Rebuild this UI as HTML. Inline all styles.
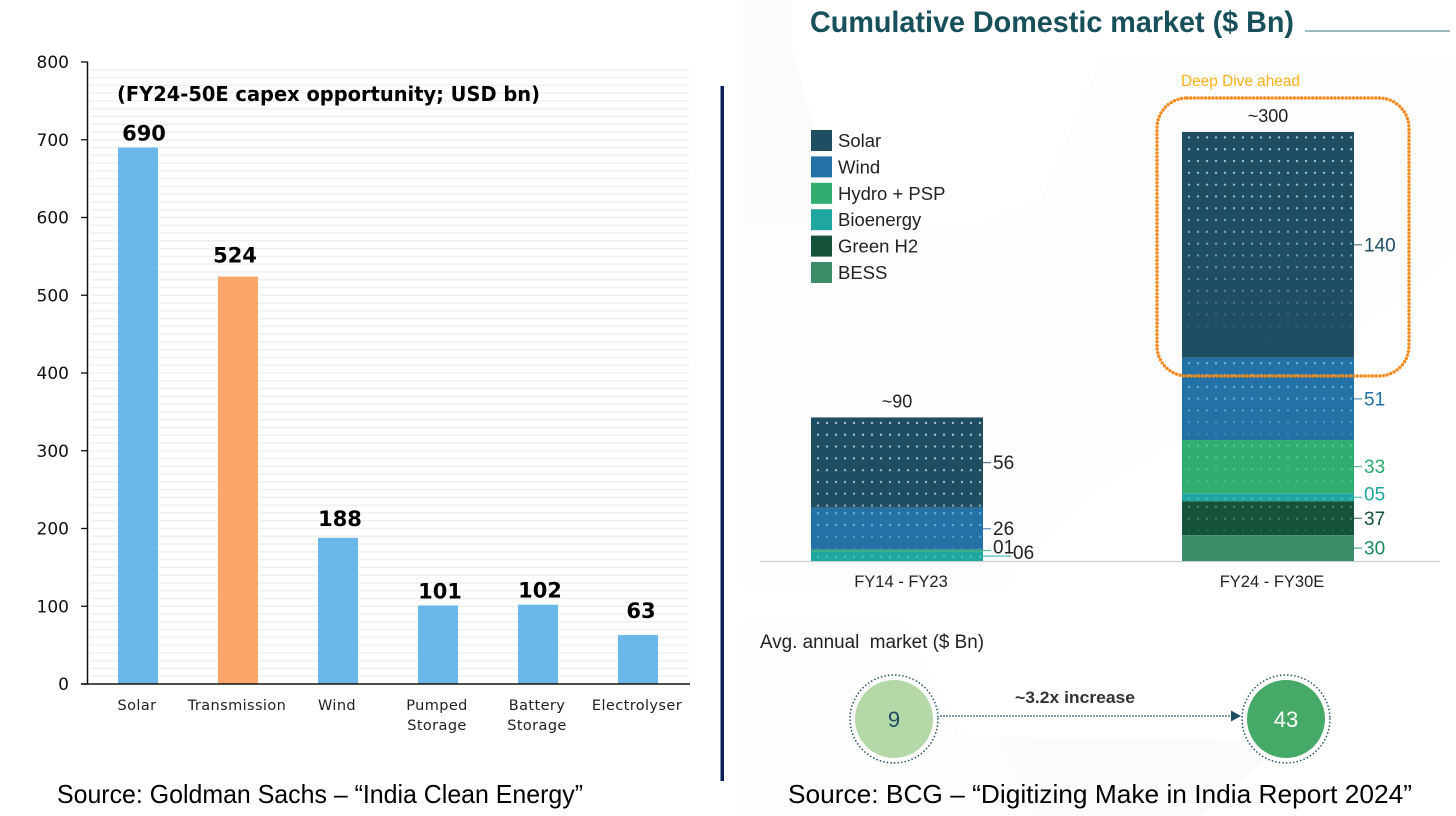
<!DOCTYPE html>
<html lang="en">
<head>
<meta charset="utf-8">
<title>India clean energy capex and domestic market</title>
<style>
  html,body{margin:0;padding:0;background:#fff;}
  svg{display:block;}
  text{font-family:"Liberation Sans",sans-serif;}
  .dj text,.dj{font-family:"DejaVu Sans",sans-serif;}
</style>
</head>
<body>
<svg id="stage" xmlns="http://www.w3.org/2000/svg" width="1456" height="816" viewBox="0 0 1456 816">
  <rect x="0" y="0" width="1456" height="816" fill="#ffffff"/>

  <g id="right-bg">
    <rect x="743" y="0" width="713" height="816" fill="#fdfdfd"/>
    <polygon points="790,0 1456,0 1456,816 1200,816 1290,740 960,735 905,620 743,620 743,590 1000,590 1080,500 1400,300 1456,250 1456,60 1100,60 1040,200 980,225 840,225 790,40" fill="#ffffff"/>
    <polygon points="1000,740 1290,740 1200,816 1040,816" fill="#fbfbfb"/>
    <polygon points="743,0 790,0 790,40 840,225 743,225" fill="#fbfbfb"/>
  </g>

  <g id="left-chart" class="dj"></g>

  <text x="117" y="101" font-size="20" font-weight="700" fill="#000" textLength="423" lengthAdjust="spacingAndGlyphs" style="font-family:'DejaVu Sans',sans-serif">(FY24-50E capex opportunity; USD bn)</text>

  <text x="57" y="803" font-size="26" fill="#000" textLength="526" lengthAdjust="spacingAndGlyphs">Source: Goldman Sachs – “India Clean Energy”</text>

  <rect x="720.5" y="86" width="3.5" height="695" fill="#0b1f5c"/>

  <text x="810" y="32" font-size="29.5" font-weight="700" fill="#17505a" textLength="484" lengthAdjust="spacingAndGlyphs">Cumulative Domestic market ($ Bn)</text>
  <line x1="1305" y1="31" x2="1450" y2="31" stroke="#7fa3aa" stroke-width="1.5"/>

  <g id="right-chart"></g>

  <text x="1181" y="86" font-size="15.5" fill="#fbb017" textLength="119" lengthAdjust="spacingAndGlyphs">Deep Dive ahead</text>
  <rect x="1157" y="98" width="252" height="278" rx="30" ry="30" fill="none" stroke="#f58a1f" stroke-width="3.4" stroke-linecap="round" stroke-dasharray="0 3.7"/>

  <text x="760" y="648" font-size="19" fill="#222" textLength="224" lengthAdjust="spacingAndGlyphs" xml:space="preserve">Avg. annual  market ($ Bn)</text>

  <circle cx="894" cy="719" r="44" fill="none" stroke="#1f4e63" stroke-width="1.7" stroke-linecap="round" stroke-dasharray="0 3.6"/>
  <circle cx="894" cy="719" r="39" fill="#b5d8a8"/>
  <text x="894" y="727" font-size="22" text-anchor="middle" fill="#1f4e63">9</text>

  <line x1="941" y1="716" x2="1232" y2="716" stroke="#1f4e63" stroke-width="1.7" stroke-linecap="round" stroke-dasharray="0 3"/>
  <polygon points="1231,710.5 1241,716 1231,721.5" fill="#1f4e63"/>
  <text x="1015" y="703" font-size="17" font-weight="700" fill="#333" textLength="120" lengthAdjust="spacingAndGlyphs">~3.2x increase</text>

  <circle cx="1286" cy="719" r="44" fill="none" stroke="#1f4e63" stroke-width="1.7" stroke-linecap="round" stroke-dasharray="0 3.6"/>
  <circle cx="1286" cy="719" r="39" fill="#47a968"/>
  <text x="1286" y="727" font-size="22" text-anchor="middle" fill="#ffffff">43</text>

  <text x="788" y="803" font-size="26" fill="#000" textLength="624" lengthAdjust="spacingAndGlyphs">Source: BCG – “Digitizing Make in India Report 2024”</text>
</svg>

<script>
/* ---------- left chart data ---------- */
const capexCategories = ['Solar', 'Transmission', 'Wind', 'Pumped|Storage', 'Battery|Storage', 'Electrolyser'];
const capexValues = [690, 524, 188, 101, 102, 63];
const capexTicks = [0, 100, 200, 300, 400, 500, 600, 700, 800];

/* ---------- right chart data (top of stack first) ---------- */
const marketSeries = ['Solar', 'Wind', 'Hydro + PSP', 'Bioenergy', 'Green H2', 'BESS'];
const marketPeriods = ['FY14 - FY23', 'FY24 - FY30E'];
const marketTotals = ['~90', '~300'];
/* Drawn heights; the source draws Green H2 and BESS shorter than their printed 37 and 30. */
const fy14Values = [56, 26, 1, 6, 0, 0];
const fy30Values = [140, 51, 33, 5, 21, 16];
const fy14Printed = ['56', '26', '01', '06', '', ''];
const fy30Printed = ['140', '51', '33', '05', '37', '30'];

/* ---------- layout and style ---------- */
const NS = 'http://www.w3.org/2000/svg';
const capexBase = 684, capexPxPerUnit = 0.7775, capexFirst = 138, capexStep = 100, capexBarW = 40;
const marketBase = 561, marketPxPerUnit = 1.613, marketBarW = 172;
const marketBarLeft = [811, 1182];
const seriesFill = ['#1f4e63', '#2471a8', '#2fae6f', '#20a6a1', '#14533a', '#3a8d68'];
const seriesInk = ['#1f4e63', '#1f6fa8', '#2bab6c', '#1fa5a0', '#14503a', '#1d8a5e'];
const seriesDotAlpha = [0.72, 0.5, 0.32, 0.4, 0.3, 0];
const capexFill = ['#6bb7e8', '#fba66a', '#6bb7e8', '#6bb7e8', '#6bb7e8', '#6bb7e8'];
const capexLabelLift = [7, 14, 12, 7, 7, 17];
const capexLabelShift = [6, -3, 2, 2, 2, 3];

const yCapex = v => capexBase - v * capexPxPerUnit;
const xCapex = i => capexFirst + i * capexStep;
const hMarket = v => v * marketPxPerUnit;

function make(parent, tag, attrs, content) {
  const el = document.createElementNS(NS, tag);
  for (const k in attrs) el.setAttribute(k, attrs[k]);
  if (content !== undefined) el.textContent = content;
  parent.appendChild(el);
  return el;
}
const slug = s => s.toLowerCase().replace(/[^a-z0-9]+/g, '-').replace(/^-|-$/g, '');

/* ---------- left chart ---------- */
const left = document.getElementById('left-chart');

for (let v = 10; v < 800; v += 10) {
  const grid = make(left, 'line', {x1: 90, x2: 689, y1: yCapex(v), y2: yCapex(v), stroke: '#f0f0f0', 'stroke-width': 1.6});
  
  
}

capexTicks.forEach(t => {
  const mark = make(left, 'line', {x1: 81, x2: 88, y1: yCapex(t), y2: yCapex(t), stroke: '#111', 'stroke-width': 1.3});
  
  
  const lab = make(left, 'text', {x: 69, y: yCapex(t) + 6, 'text-anchor': 'end', 'font-size': 17, fill: '#111'}, String(t));
  
  
});

capexValues.forEach((v, i) => {
  const bar = make(left, 'rect', {x: xCapex(i) - capexBarW / 2, y: yCapex(v), width: capexBarW, height: v * capexPxPerUnit, fill: capexFill[i]});
  
  
  const val = make(left, 'text', {x: xCapex(i) + capexLabelShift[i], y: yCapex(v) - capexLabelLift[i], 'text-anchor': 'middle', 'font-size': 21, 'font-weight': 700, fill: '#000'}, String(v));
  
  
  capexCategories[i].split('|').forEach((line, n) => {
    const cat = make(left, 'text', {x: xCapex(i) - 1, y: 710 + n * 20, 'text-anchor': 'middle', 'font-size': 14.5, 'letter-spacing': 0.4, fill: '#222'}, line);
    
    
  });
});

const yAxis = make(left, 'line', {x1: 87.5, x2: 87.5, y1: 62, y2: 684, stroke: '#111', 'stroke-width': 1.5});


const xAxis = make(left, 'line', {x1: 81, x2: 690, y1: 684, y2: 684, stroke: '#111', 'stroke-width': 1.5});



/* ---------- right chart ---------- */
const right = document.getElementById('right-chart');

marketSeries.forEach((name, i) => {
  const y = 130 + i * 26.4;
  const sw = make(right, 'rect', {x: 811, y: y, width: 21, height: 21, fill: seriesFill[i]});
  
  
  const lab = make(right, 'text', {x: 838, y: y + 17, 'font-size': 18.5, fill: '#222'}, name);
  
  
});

const baseline = make(right, 'line', {x1: 760, x2: 1440, y1: marketBase + 0.5, y2: marketBase + 0.5, stroke: '#cfcfcf', 'stroke-width': 1.2});



[fy14Values, fy30Values].forEach((vals, b) => {
  const printed = b === 0 ? fy14Printed : fy30Printed;
  const barX = marketBarLeft[b];
  const total = vals.reduce((a, c) => a + c, 0);
  let top = marketBase - hMarket(total);

  const tot = make(right, 'text', {x: barX + marketBarW / 2, y: top - 10, 'text-anchor': 'middle', 'font-size': 18, fill: '#222'}, marketTotals[b]);
  
  

  const cat = make(right, 'text', {x: barX + marketBarW / 2 + 4, y: 587, 'text-anchor': 'middle', 'font-size': 16.5, fill: '#222'}, marketPeriods[b]);
  
  

  let prevThin = false;
  vals.forEach((v, i) => {
    if (v <= 0) return;
    const h = hMarket(v);
    const seg = make(right, 'rect', {x: barX, y: top, width: marketBarW, height: h, fill: seriesFill[i]});
    
    

    if (seriesDotAlpha[i] > 0) {
      const span = i === 0 ? 210 : h * 1.15;
      for (let dy = 5.5; dy < h - 1; dy += 11.8) {
        const fade = Math.max(0, 1 - (dy / span) * (dy / span));
        for (let dx = 7; dx < marketBarW - 2; dx += 9) {
          const dot = make(right, 'circle', {cx: barX + dx, cy: top + dy, r: 1.2, fill: '#d8eef0', opacity: (seriesDotAlpha[i] * fade).toFixed(2)});
          
          
        }
      }
    }

    const mid = top + h / 2;
    const thin = h < 12;
    const labelX = barX + marketBarW + 10 + (thin && prevThin ? 20 : 0);
    const tick = make(right, 'line', {x1: barX + marketBarW, x2: labelX - 2, y1: mid, y2: mid, stroke: seriesInk[i], 'stroke-width': 1.2, opacity: 0.75});
    
    
    const lab = make(right, 'text', {x: labelX, y: mid + (thin ? 3 : 6.5), 'font-size': 19, fill: b === 0 ? '#222' : seriesInk[i]}, printed[i]);
    
    

    prevThin = thin;
    top += h;
  });
});
</script>
</body>
</html>
